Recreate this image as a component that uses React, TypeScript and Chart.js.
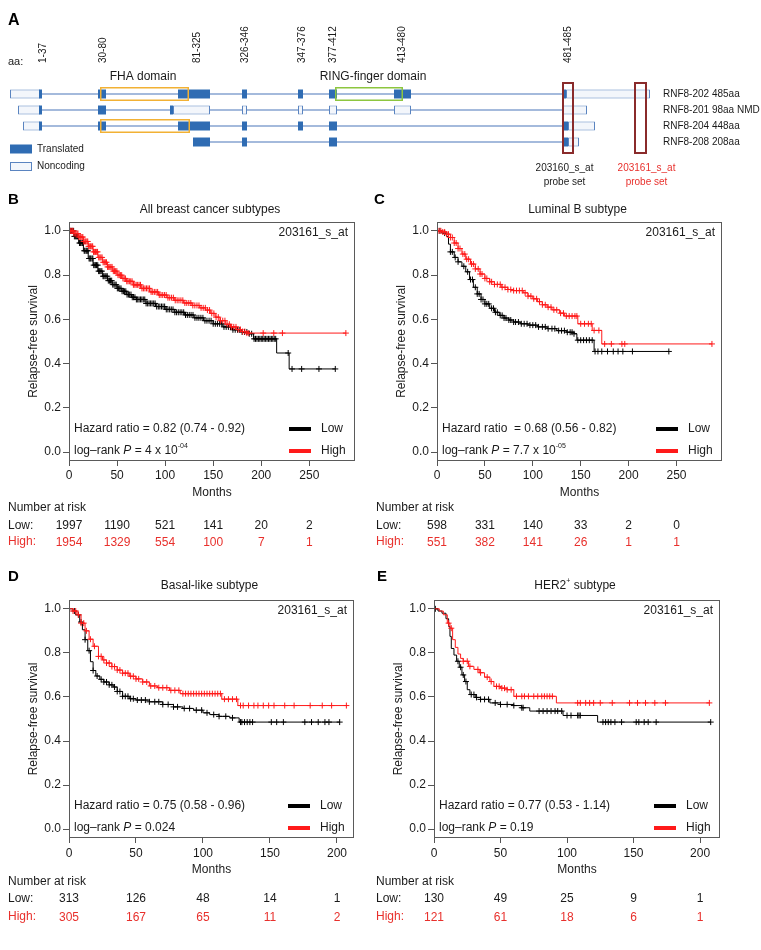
import React, { useEffect, useRef } from "react";
import { Chart, registerables } from "chart.js";

Chart.register(...registerables);

const FONT = "'Liberation Sans', Arial, Helvetica, sans-serif";
const RED = "#ff1a1a";
const RED_TEXT = "#e8302c";
const INK = "#1a1a1a";
const EXON_BLUE = "#2f6cb3";
const EXON_EDGE = "#5a84c0";
const INTRON_BLUE = "#86a3d0";

// ---------------- Panel A : RNF8 transcripts (schematic units) ----------------
const A_TRANSCRIPTS = ["RNF8-202 485aa", "RNF8-201 98aa NMD", "RNF8-204 448aa", "RNF8-208 208aa"];
// [row, start, end]
const A_INTRONS = [[1, 2, 642], [2, 10, 579], [3, 15, 587], [4, 185, 571]];
const A_TRANSLATED = [
  [1, 31, 34], [1, 90, 98], [1, 170, 202], [1, 234, 239], [1, 290, 295], [1, 321, 329], [1, 386, 403], [1, 555, 558],
  [2, 31, 34], [2, 90, 98], [2, 162, 165],
  [3, 31, 34], [3, 90, 98], [3, 170, 202], [3, 234, 239], [3, 290, 295], [3, 321, 329], [3, 555, 560],
  [4, 185, 202], [4, 234, 239], [4, 321, 329], [4, 555, 560],
];
const A_NONCODING = [
  [1, 2, 32], [1, 558, 642],
  [2, 10, 32], [2, 165, 202], [2, 234, 239], [2, 290, 295], [2, 321, 329], [2, 386, 403], [2, 555, 579],
  [3, 15, 32], [3, 560, 587],
  [4, 560, 571],
];
const A_FHA = [[1, 92, 181], [3, 92, 182]];
const A_RING = [[1, 327, 395]];
const A_PROBES = [[554, 566], [626, 639]];
const A_PROBE_NAMES = ["203160_s_at", "203161_s_at"];
const A_PROBE_LABEL_POS = [556.5, 638.5];
const A_AA_LABELS = ["1-37", "30-80", "81-325", "326-346", "347-376", "377-412", "413-480", "481-485"];
const A_AA_POS = [35, 95, 189, 237, 294, 325, 394, 560];
const A_DOMAIN_NAMES = ["FHA domain", "RING-finger domain"];
const A_DOMAIN_LABEL_POS = [135, 365];

// ---------------- Panel B : All breast cancer subtypes ----------------
const B_LOW_T = [0, 5, 10, 15, 20, 25, 30, 35, 40, 45, 50, 55, 60, 65, 70, 80, 90, 100, 110, 120, 130, 140, 150, 160, 170, 180, 187, 192, 216, 229, 277];
const B_LOW_S = [1, 0.975, 0.945, 0.91, 0.875, 0.845, 0.818, 0.795, 0.775, 0.757, 0.74, 0.727, 0.712, 0.7, 0.69, 0.672, 0.658, 0.645, 0.632, 0.62, 0.607, 0.594, 0.58, 0.566, 0.553, 0.543, 0.535, 0.512, 0.448, 0.376, 0.376];
const B_LOW_CENS = [1.5, 2.5, 3.5, 4.8, 5.6, 6.9, 7.7, 8.8, 9.6, 10.9, 11.8, 12.6, 13.9, 14.7, 15.8, 16.6, 17.9, 18.8, 19.7, 20.9, 21.8, 22.6, 23.9, 24.8, 25.7, 26.9, 27.8, 28.6, 29.9, 30.8, 31.9, 33.1, 34.2, 35.4, 36.3, 37.5, 38.6, 39.8, 40.9, 42.1, 43.2, 44.4, 45.5, 46.8, 47.9, 49.1, 50.3, 51.6, 52.8, 54.1, 55.2, 56.6, 57.8, 59.1, 60.4, 61.8, 63.1, 64.5, 65.8, 67.2, 68.6, 70.1, 71.5, 72.9, 74.4, 75.8, 77.3, 78.8, 80.2, 81.8, 83.3, 84.9, 86.4, 88.1, 89.6, 91.2, 92.9, 94.5, 96.2, 97.8, 99.5, 101.2, 102.9, 104.7, 106.4, 108.2, 110.1, 111.9, 113.7, 115.6, 117.4, 119.3, 121.2, 123.1, 125.1, 127, 129, 131, 133.1, 135.1, 137.2, 139.3, 141.4, 143.5, 145.7, 147.8, 150, 152.2, 154.4, 156.7, 158.9, 161.2, 163.5, 165.8, 168.1, 170.5, 172.9, 175.3, 177.7, 180.1, 182.6, 185, 187.5, 190, 192.5, 194, 195.5, 197, 198.5, 200, 201.5, 203, 204.5, 206, 207.5, 209, 210.5, 212, 213.5, 215, 228, 232, 242, 260, 277];
const B_HIGH_T = [0, 5, 10, 15, 20, 25, 30, 35, 40, 45, 50, 55, 60, 67, 75, 84, 93, 102, 110, 119, 128, 136, 142, 147, 152, 157, 163, 168, 174, 180, 185, 288];
const B_HIGH_S = [1, 0.988, 0.972, 0.952, 0.93, 0.905, 0.88, 0.858, 0.837, 0.818, 0.8, 0.785, 0.772, 0.756, 0.74, 0.724, 0.71, 0.698, 0.686, 0.674, 0.663, 0.652, 0.642, 0.627, 0.61, 0.594, 0.578, 0.566, 0.554, 0.545, 0.538, 0.538];
const B_HIGH_CENS = [1.2, 2.1, 3.3, 4.2, 5.1, 6.3, 7.2, 8.4, 9.3, 10.2, 11.4, 12.3, 13.5, 14.4, 15.3, 16.5, 17.4, 18.6, 19.5, 20.4, 21.6, 22.5, 23.7, 24.6, 25.5, 26.7, 27.6, 28.8, 29.7, 30.9, 32.1, 33.2, 34.4, 35.5, 36.7, 37.8, 39, 40.1, 41.3, 42.5, 43.6, 44.8, 46.1, 47.3, 48.5, 49.8, 51, 52.3, 53.5, 54.8, 56.1, 57.4, 58.7, 60.1, 61.4, 62.8, 64.2, 65.6, 67, 68.5, 69.9, 71.4, 72.9, 74.4, 75.9, 77.4, 79, 80.6, 82.2, 83.8, 85.4, 87.1, 88.8, 90.5, 92.2, 93.9, 95.7, 97.5, 99.3, 101.1, 102.9, 104.8, 106.7, 108.6, 110.5, 112.5, 114.4, 116.4, 118.4, 120.5, 122.5, 124.6, 126.7, 128.8, 130.9, 133.1, 135.2, 137.4, 139.6, 141.8, 144, 146.2, 148.5, 150.7, 153, 155.3, 157.6, 159.9, 162.2, 164.5, 166.8, 169.1, 171.4, 173.7, 176, 178.3, 180.6, 182.9, 185, 187, 202, 213, 222, 288];
const B_RISK_LOW = [1997, 1190, 521, 141, 20, 2];
const B_RISK_HIGH = [1954, 1329, 554, 100, 7, 1];

// ---------------- Panel C : Luminal B ----------------
const C_LOW_T = [0, 5, 10, 12, 14, 18, 22, 26, 30, 34, 38, 42, 46, 50, 55, 60, 65, 70, 75, 80, 87, 95, 105, 115, 125, 135, 143, 146, 164, 242];
const C_LOW_S = [1, 0.99, 0.975, 0.94, 0.905, 0.88, 0.86, 0.84, 0.815, 0.78, 0.745, 0.715, 0.69, 0.67, 0.65, 0.632, 0.618, 0.606, 0.597, 0.588, 0.58, 0.574, 0.566, 0.558, 0.549, 0.542, 0.535, 0.506, 0.455, 0.455];
const C_LOW_CENS = [3, 8, 14, 16, 19, 22, 28, 32, 35, 37, 40, 42, 44, 46, 48, 50, 52, 54, 57, 59, 61, 63, 66, 68, 70, 72, 75, 77, 80, 82, 85, 88, 91, 94, 97, 100, 103, 106, 110, 113, 116, 120, 123, 127, 130, 133, 136, 139, 141, 143, 147, 150, 153, 156, 159, 162, 165, 168, 172, 178, 184, 189, 194, 204, 242];
const C_HIGH_T = [0, 5, 10, 14, 18, 22, 26, 30, 35, 40, 45, 50, 55, 60, 67, 74, 80, 90, 95, 100, 105, 110, 115, 120, 128, 133, 147, 162, 172, 287];
const C_HIGH_S = [1, 0.995, 0.985, 0.97, 0.945, 0.92, 0.895, 0.872, 0.85, 0.828, 0.805, 0.785, 0.77, 0.758, 0.745, 0.735, 0.73, 0.72, 0.705, 0.693, 0.68, 0.666, 0.655, 0.643, 0.628, 0.615, 0.58, 0.55, 0.489, 0.489];
const C_HIGH_CENS = [2, 4, 6, 8, 10, 12, 14, 16, 18, 20, 22, 24, 27, 29, 31, 33, 36, 38, 40, 43, 45, 47, 50, 52, 55, 57, 60, 63, 66, 68, 71, 74, 77, 80, 83, 86, 89, 92, 95, 98, 101, 104, 107, 110, 113, 116, 119, 122, 125, 129, 132, 135, 138, 141, 144, 146, 150, 154, 158, 161, 164, 169, 175, 182, 193, 196, 287];
const C_RISK_LOW = [598, 331, 140, 33, 2, 0];
const C_RISK_HIGH = [551, 382, 141, 26, 1, 1];

// ---------------- Panel D : Basal-like ----------------
const D_LOW_T = [0, 3, 5, 8, 10, 12, 14, 16, 18, 20, 23, 26, 30, 33, 36, 40, 45, 50, 60, 70, 78, 85, 93, 100, 105, 112, 120, 127, 202];
const D_LOW_S = [1, 0.99, 0.973, 0.94, 0.905, 0.86, 0.81, 0.76, 0.72, 0.695, 0.68, 0.668, 0.655, 0.645, 0.625, 0.603, 0.592, 0.586, 0.578, 0.566, 0.555, 0.548, 0.54, 0.528, 0.52, 0.512, 0.505, 0.486, 0.486];
const D_LOW_CENS = [4, 7, 9, 12, 15, 18, 21, 24, 26, 28, 30, 32, 34, 36, 38, 40, 42, 44, 46, 48, 51, 54, 57, 60, 64, 67, 70, 74, 78, 81, 86, 90, 95, 99, 103, 108, 112, 117, 122, 128, 129, 131, 133, 135, 137, 151, 155, 160, 176, 181, 186, 191, 194, 202];
const D_HIGH_T = [0, 3, 6, 9, 12, 15, 18, 22, 25, 28, 32, 36, 40, 45, 50, 55, 60, 66, 75, 83, 114, 126, 207];
const D_HIGH_S = [1, 0.99, 0.973, 0.935, 0.9, 0.862, 0.83, 0.784, 0.768, 0.754, 0.738, 0.722, 0.708, 0.694, 0.682, 0.668, 0.65, 0.642, 0.63, 0.615, 0.59, 0.561, 0.561];
const D_HIGH_CENS = [3, 5, 7, 9, 11, 13, 16, 19, 22, 24, 26, 28, 30, 32, 34, 36, 38, 40, 42, 44, 46, 48, 50, 52, 55, 58, 61, 64, 67, 70, 73, 76, 79, 82, 85, 87, 89, 91, 93, 95, 97, 99, 101, 103, 105, 107, 109, 111, 113, 116, 119, 122, 125, 128, 130, 134, 138, 141, 145, 149, 153, 161, 168, 180, 189, 196, 207];
const D_RISK_LOW = [313, 126, 48, 14, 1];
const D_RISK_HIGH = [305, 167, 65, 11, 2];

// ---------------- Panel E : HER2+ ----------------
const E_LOW_T = [0, 3, 6, 9, 11, 12, 13, 15, 17, 19, 21, 23, 25, 27, 31, 35, 42, 50, 60, 66, 72, 97, 123, 208];
const E_LOW_S = [1, 0.99, 0.98, 0.955, 0.92, 0.875, 0.82, 0.79, 0.762, 0.735, 0.7, 0.67, 0.633, 0.611, 0.598, 0.589, 0.573, 0.566, 0.561, 0.551, 0.536, 0.516, 0.486, 0.486];
const E_LOW_CENS = [1, 18, 20, 22, 24, 28, 30, 32, 35, 38, 41, 46, 50, 55, 60, 66, 67, 79, 82, 85, 88, 91, 93, 96, 100, 103, 108, 109, 110, 127, 129, 131, 133, 136, 141, 152, 154, 158, 161, 167, 208];
const E_HIGH_T = [0, 4, 7, 10, 12, 14, 16, 18, 20, 22, 26, 30, 34, 38, 42, 45, 50, 55, 60, 92, 207];
const E_HIGH_S = [1, 0.99, 0.973, 0.935, 0.912, 0.86, 0.825, 0.795, 0.775, 0.762, 0.739, 0.725, 0.71, 0.69, 0.67, 0.648, 0.64, 0.633, 0.603, 0.573, 0.573];
const E_HIGH_CENS = [11, 13, 22, 25, 27, 33, 35, 40, 43, 47, 49, 51, 53, 55, 58, 62, 66, 68, 71, 75, 78, 81, 83, 85, 87, 89, 108, 110, 114, 117, 120, 125, 134, 147, 153, 159, 166, 174, 207];
const E_RISK_LOW = [130, 49, 25, 9, 1];
const E_RISK_HIGH = [121, 61, 18, 6, 1];

const TICKS_300 = [0, 50, 100, 150, 200, 250];
const TICKS_200 = [0, 50, 100, 150, 200];
const Y_TICKS = [0, 0.2, 0.4, 0.6, 0.8, 1.0];

type Part = { text: string; italic?: boolean; sup?: boolean };

function drawParts(ctx: any, x: number, y: number, parts: Part[], size: number, align: string) {
  const fontFor = (p: Part) => `${p.italic ? "italic " : ""}${p.sup ? Math.round(size * 0.62) : size}px ${FONT}`;
  let w = 0;
  for (const p of parts) {
    ctx.font = fontFor(p);
    w += ctx.measureText(p.text).width;
  }
  let cx = align === "center" ? x - w / 2 : x;
  ctx.textAlign = "left";
  for (const p of parts) {
    ctx.font = fontFor(p);
    ctx.fillText(p.text, cx, p.sup ? y - size * 0.38 : y);
    cx += ctx.measureText(p.text).width;
  }
}

function stepValue(times: number[], surv: number[], t: number) {
  let v = surv[0];
  for (let i = 0; i < times.length; i++) {
    if (times[i] <= t) v = surv[i];
    else break;
  }
  return v;
}

// ---------------- Gene structure chart ----------------
const geneDecor = {
  id: "geneDecor",
  afterDraw(chart: any) {
    const { ctx } = chart;
    const xs = chart.scales.x;
    ctx.save();
    ctx.textBaseline = "middle";
    ctx.fillStyle = "#000";
    ctx.textAlign = "left";
    ctx.font = `bold 16px ${FONT}`;
    ctx.fillText("A", 8, 21);
    ctx.fillStyle = INK;
    ctx.font = `11px ${FONT}`;
    ctx.fillText("aa:", 8, 62);
    ctx.font = `10px ${FONT}`;
    A_AA_LABELS.forEach((lab, i) => {
      const px = xs.getPixelForValue(A_AA_POS[i]);
      ctx.save();
      ctx.translate(px, 63);
      ctx.rotate(-Math.PI / 2);
      ctx.textAlign = "left";
      ctx.fillText(lab, 0, 0);
      ctx.restore();
    });
    ctx.font = `12px ${FONT}`;
    ctx.textAlign = "center";
    A_DOMAIN_NAMES.forEach((n, i) => ctx.fillText(n, xs.getPixelForValue(A_DOMAIN_LABEL_POS[i]), 77));
    // legend
    ctx.fillStyle = EXON_BLUE;
    ctx.fillRect(10, 144.5, 22, 9);
    ctx.fillStyle = "#f3f6fb";
    ctx.fillRect(10, 162, 22, 8);
    ctx.strokeStyle = EXON_EDGE;
    ctx.lineWidth = 1;
    ctx.strokeRect(10.5, 162.5, 21, 8);
    ctx.fillStyle = INK;
    ctx.font = `10px ${FONT}`;
    ctx.textAlign = "left";
    ctx.fillText("Translated", 37, 149);
    ctx.fillText("Noncoding", 37, 166);
    // probe labels
    ctx.textAlign = "center";
    A_PROBE_NAMES.forEach((n, i) => {
      ctx.fillStyle = i === 0 ? INK : RED_TEXT;
      const px = xs.getPixelForValue(A_PROBE_LABEL_POS[i]);
      ctx.fillText(n, px, 168);
      ctx.fillText("probe set", px, 182);
    });
    ctx.restore();
  },
};

function geneConfig(): any {
  const floating = (rows: number[][]) => rows.map(([r, s, e]) => ({ x: [s, e], y: r }));
  const common = { grouped: false, clip: false, borderSkipped: false, inflateAmount: 0 };
  return {
    type: "bar",
    data: {
      datasets: [
        { ...common, label: "intron", data: floating(A_INTRONS), backgroundColor: INTRON_BLUE, borderWidth: 0, barThickness: 1.5, order: 6 },
        { ...common, label: "noncoding", data: floating(A_NONCODING), backgroundColor: "#f3f6fb", borderColor: EXON_EDGE, borderWidth: 1, barThickness: 9, order: 5 },
        { ...common, label: "translated", data: floating(A_TRANSLATED), backgroundColor: EXON_BLUE, borderWidth: 0, barThickness: 9, order: 4 },
        { ...common, label: "FHA", data: floating(A_FHA), backgroundColor: "rgba(0,0,0,0)", borderColor: "#f2b134", borderWidth: 1.5, barThickness: 14, order: 3 },
        { ...common, label: "RING", data: floating(A_RING), backgroundColor: "rgba(0,0,0,0)", borderColor: "#8dc63f", borderWidth: 1.5, barThickness: 14, order: 2 },
        { ...common, label: "probe", data: A_PROBES.map(([s, e]) => ({ x: [s, e], y: 2.5 })), backgroundColor: "rgba(0,0,0,0)", borderColor: "#8a2b2b", borderWidth: 2, barThickness: 72, order: 1 },
      ],
    },
    options: {
      indexAxis: "y",
      responsive: false,
      animation: false,
      devicePixelRatio: 1,
      events: [],
      layout: { padding: { left: 8, top: 86, right: 0, bottom: 40 } },
      plugins: { legend: { display: false }, tooltip: { enabled: false } },
      scales: {
        x: { type: "linear", display: false, min: 0, max: 644 },
        y: {
          type: "linear",
          position: "right",
          min: 0.5,
          max: 4.5,
          reverse: true,
          offset: false,
          afterBuildTicks: (s: any) => { s.ticks = [1, 2, 3, 4].map((v) => ({ value: v })); },
          afterFit: (s: any) => { s.width = 109; },
          grid: { display: false, drawTicks: false },
          border: { display: false },
          ticks: { font: { family: FONT, size: 10 }, color: INK, padding: 11, callback: (v: any) => A_TRANSCRIPTS[Math.round(Number(v)) - 1] },
        },
      },
    },
    plugins: [geneDecor],
  };
}

// ---------------- Kaplan-Meier charts ----------------
interface KMPanel {
  letter: string;
  title: Part[];
  lowT: number[]; lowS: number[]; lowC: number[];
  highT: number[]; highS: number[]; highC: number[];
  xMax: number; xTicks: number[];
  hr: string; logrank: Part[];
  riskLow: number[]; riskHigh: number[];
  box: { left: number; top: number; width: number; height: number };
  padTop: number; padRight: number; padBottom: number; yAxisW: number; yTitlePad: number; xTickPad: number; monthsPad: number;
  letterX: number; letterY: number; titleY: number; riskX: number; riskRows: number[];
}

const PANELS: KMPanel[] = [
  {
    letter: "B", title: [{ text: "All breast cancer subtypes" }],
    lowT: B_LOW_T, lowS: B_LOW_S, lowC: B_LOW_CENS, highT: B_HIGH_T, highS: B_HIGH_S, highC: B_HIGH_CENS,
    xMax: 297.5, xTicks: TICKS_300,
    hr: "Hazard ratio = 0.82 (0.74 - 0.92)",
    logrank: [{ text: "log–rank " }, { text: "P", italic: true }, { text: " = 4 x 10" }, { text: "-04", sup: true }],
    riskLow: B_RISK_LOW, riskHigh: B_RISK_HIGH,
    box: { left: 0, top: 190, width: 370, height: 375 },
    padTop: 32, padRight: 15, padBottom: 64, yAxisW: 69, yTitlePad: 26, xTickPad: 2, monthsPad: 0.8,
    letterX: 8, letterY: 10, titleY: 20, riskX: 8, riskRows: [318, 336, 353],
  },
  {
    letter: "C", title: [{ text: "Luminal B subtype" }],
    lowT: C_LOW_T, lowS: C_LOW_S, lowC: C_LOW_CENS, highT: C_HIGH_T, highS: C_HIGH_S, highC: C_HIGH_CENS,
    xMax: 297.5, xTicks: TICKS_300,
    hr: "Hazard ratio  = 0.68 (0.56 - 0.82)",
    logrank: [{ text: "log–rank " }, { text: "P", italic: true }, { text: " = 7.7 x 10" }, { text: "-05", sup: true }],
    riskLow: C_RISK_LOW, riskHigh: C_RISK_HIGH,
    box: { left: 370, top: 190, width: 391, height: 375 },
    padTop: 32, padRight: 39, padBottom: 64, yAxisW: 67, yTitlePad: 24, xTickPad: 2, monthsPad: 0.8,
    letterX: 4, letterY: 10, titleY: 20, riskX: 6, riskRows: [318, 336, 353],
  },
  {
    letter: "D", title: [{ text: "Basal-like subtype" }],
    lowT: D_LOW_T, lowS: D_LOW_S, lowC: D_LOW_CENS, highT: D_HIGH_T, highS: D_HIGH_S, highC: D_HIGH_CENS,
    xMax: 212.7, xTicks: TICKS_200,
    hr: "Hazard ratio = 0.75 (0.58 - 0.96)",
    logrank: [{ text: "log–rank " }, { text: "P", italic: true }, { text: " = 0.024" }],
    riskLow: D_RISK_LOW, riskHigh: D_RISK_HIGH,
    box: { left: 0, top: 565, width: 370, height: 385 },
    padTop: 35, padRight: 16, padBottom: 72, yAxisW: 69, yTitlePad: 26, xTickPad: 3, monthsPad: 0.8,
    letterX: 8, letterY: 12, titleY: 21, riskX: 8, riskRows: [317, 334, 353],
  },
  {
    letter: "E", title: [{ text: "HER2" }, { text: "+", sup: true }, { text: " subtype" }],
    lowT: E_LOW_T, lowS: E_LOW_S, lowC: E_LOW_CENS, highT: E_HIGH_T, highS: E_HIGH_S, highC: E_HIGH_CENS,
    xMax: 215, xTicks: TICKS_200,
    hr: "Hazard ratio = 0.77 (0.53 - 1.14)",
    logrank: [{ text: "log–rank " }, { text: "P", italic: true }, { text: " = 0.19" }],
    riskLow: E_RISK_LOW, riskHigh: E_RISK_HIGH,
    box: { left: 370, top: 565, width: 391, height: 385 },
    padTop: 35, padRight: 41, padBottom: 72, yAxisW: 64, yTitlePad: 21, xTickPad: 3, monthsPad: 0.8,
    letterX: 7, letterY: 12, titleY: 21, riskX: 6, riskRows: [317, 334, 353],
  },
];

function kmDecor(p: KMPanel) {
  return {
    id: "kmDecor" + p.letter,
    afterDraw(chart: any) {
      const { ctx, chartArea: a } = chart;
      const xs = chart.scales.x;
      ctx.save();
      ctx.strokeStyle = "#5a5a5a";
      ctx.lineWidth = 1;
      ctx.strokeRect(a.left + 0.5, a.top + 0.5, a.right - a.left - 1, a.bottom - a.top - 1);
      ctx.textBaseline = "middle";
      ctx.textAlign = "left";
      ctx.fillStyle = "#000";
      ctx.font = `bold 15px ${FONT}`;
      ctx.fillText(p.letter, p.letterX, p.letterY);
      ctx.fillStyle = INK;
      drawParts(ctx, (a.left + a.right) / 2 - 2, p.titleY, p.title, 12, "center");
      ctx.font = `12px ${FONT}`;
      ctx.textAlign = "right";
      ctx.fillText("203161_s_at", a.right - 7, a.top + 11);
      ctx.textAlign = "left";
      ctx.fillText(p.hr, a.left + 5, a.bottom - 32);
      drawParts(ctx, a.left + 5, a.bottom - 10, p.logrank, 12, "left");
      // legend
      ctx.lineWidth = 4;
      ctx.strokeStyle = "#000";
      ctx.beginPath();
      ctx.moveTo(a.right - 66, a.bottom - 32);
      ctx.lineTo(a.right - 44, a.bottom - 32);
      ctx.stroke();
      ctx.strokeStyle = RED;
      ctx.beginPath();
      ctx.moveTo(a.right - 66, a.bottom - 10);
      ctx.lineTo(a.right - 44, a.bottom - 10);
      ctx.stroke();
      ctx.font = `12px ${FONT}`;
      ctx.fillStyle = INK;
      ctx.fillText("Low", a.right - 34, a.bottom - 32);
      ctx.fillText("High", a.right - 34, a.bottom - 10);
      // number at risk
      const [r0, r1, r2] = p.riskRows;
      ctx.fillText("Number at risk", p.riskX, r0);
      ctx.fillText("Low:", p.riskX, r1);
      ctx.fillStyle = RED_TEXT;
      ctx.fillText("High:", p.riskX, r2 - 1);
      ctx.textAlign = "center";
      p.xTicks.forEach((t, i) => {
        const px = xs.getPixelForValue(t);
        ctx.fillStyle = INK;
        ctx.fillText(String(p.riskLow[i]), px, r1);
        ctx.fillStyle = RED_TEXT;
        ctx.fillText(String(p.riskHigh[i]), px, r2);
      });
      ctx.restore();
    },
  };
}

function kmConfig(p: KMPanel): any {
  const curve = (T: number[], S: number[]) => T.map((t, i) => ({ x: t, y: S[i] }));
  const cens = (C: number[], T: number[], S: number[]) => C.map((t) => ({ x: t, y: stepValue(T, S, t) }));
  const axisFont = { family: FONT, size: 12 };
  return {
    type: "line",
    data: {
      datasets: [
        { label: "Low censored", data: cens(p.lowC, p.lowT, p.lowS), showLine: false, pointStyle: "cross", pointRadius: 3, pointBorderColor: "#000", pointBorderWidth: 1, borderColor: "#000", order: 4 },
        { label: "Low", data: curve(p.lowT, p.lowS), stepped: true, borderColor: "#000", borderWidth: 1, pointRadius: 0, fill: false, order: 3 },
        { label: "High censored", data: cens(p.highC, p.highT, p.highS), showLine: false, pointStyle: "cross", pointRadius: 3, pointBorderColor: RED, pointBorderWidth: 1, borderColor: RED, order: 2 },
        { label: "High", data: curve(p.highT, p.highS), stepped: true, borderColor: RED, borderWidth: 1, pointRadius: 0, fill: false, order: 1 },
      ],
    },
    options: {
      responsive: false,
      animation: false,
      devicePixelRatio: 1,
      events: [],
      layout: { padding: { left: 0, top: p.padTop, right: p.padRight, bottom: p.padBottom } },
      plugins: { legend: { display: false }, tooltip: { enabled: false }, title: { display: false } },
      scales: {
        x: {
          type: "linear",
          min: 0,
          max: p.xMax,
          afterBuildTicks: (s: any) => { s.ticks = p.xTicks.map((v) => ({ value: v })); },
          afterFit: (s: any) => { s.height = 40; },
          grid: { drawOnChartArea: false, drawTicks: true, tickLength: 5, color: "#555" },
          border: { display: false },
          ticks: { font: axisFont, color: INK, padding: p.xTickPad, maxRotation: 0, autoSkip: false },
          title: { display: true, text: "Months", font: axisFont, color: INK, padding: { top: 0, bottom: p.monthsPad } },
        },
        y: {
          type: "linear",
          min: -0.04,
          max: 1.04,
          afterBuildTicks: (s: any) => { s.ticks = Y_TICKS.map((v) => ({ value: v })); },
          afterFit: (s: any) => { s.width = p.yAxisW; },
          grid: { drawOnChartArea: false, drawTicks: true, tickLength: 6, color: "#555" },
          border: { display: false },
          ticks: { font: axisFont, color: INK, padding: 2, callback: (v: any) => Number(v).toFixed(1) },
          title: { display: true, text: "Relapse-free survival", font: axisFont, color: INK, padding: { top: p.yTitlePad, bottom: 0 } },
        },
      },
    },
    plugins: [kmDecor(p)],
  };
}

function ChartBox({ make, left, top, width, height }: any) {
  const ref = useRef<HTMLCanvasElement>(null);
  useEffect(() => {
    const chart = new Chart(ref.current as HTMLCanvasElement, make());
    return () => chart.destroy();
  }, []);
  return (
    <canvas
      ref={ref}
      width={width}
      height={height}
      style={{ position: "absolute", left, top, width, height }}
    />
  );
}

export default function App() {
  return (
    <div style={{ position: "absolute", left: 0, top: 0, width: 761, height: 950, background: "#fff", overflow: "hidden" }}>
      <ChartBox make={geneConfig} left={0} top={0} width={761} height={190} />
      {PANELS.map((p) => (
        <ChartBox key={p.letter} make={() => kmConfig(p)} left={p.box.left} top={p.box.top} width={p.box.width} height={p.box.height} />
      ))}
    </div>
  );
}
